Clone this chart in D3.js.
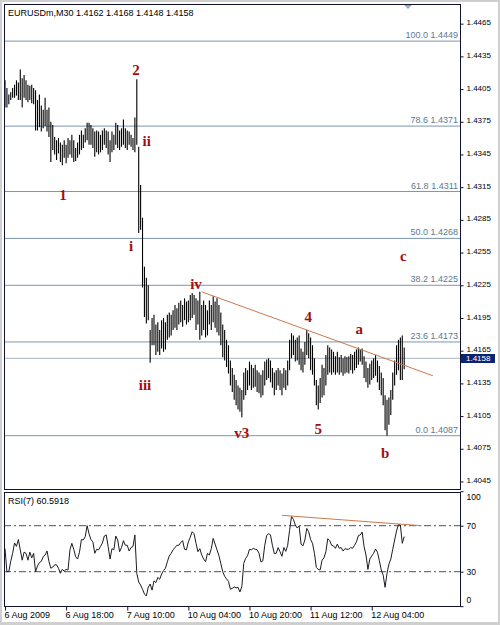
<!DOCTYPE html>
<html>
<head>
<meta charset="utf-8">
<script src="https://cdn.jsdelivr.net/npm/d3@7"></script>
<style>
  body { margin: 0; background: #fff; }
  svg { display: block; }
  text { font-family: Tahoma, "Liberation Sans", Arial, sans-serif; }
</style>
</head>
<body>
<svg id="chart" width="500" height="625"></svg>
<script>
// ---- data ----
const title = "EURUSDm,M30  1.4162 1.4168 1.4148 1.4158";

// M30 bars, high / low
const highs = [
  1.4413, 1.4406, 1.4400, 1.4402, 1.4406, 1.4409, 1.4413, 1.4411, 1.4423, 1.4415,
  1.4418, 1.4413, 1.4409, 1.4408, 1.4409, 1.4406, 1.4404, 1.4395, 1.4400, 1.4390,
  1.4386, 1.4397, 1.4386, 1.4388, 1.4375, 1.4372, 1.4361, 1.4358, 1.4360, 1.4356,
  1.4354, 1.4358, 1.4354, 1.4360, 1.4358, 1.4363, 1.4358, 1.4351, 1.4356, 1.4363,
  1.4367, 1.4363, 1.4369, 1.4374, 1.4374, 1.4372, 1.4369, 1.4366, 1.4367, 1.4366,
  1.4363, 1.4367, 1.4369, 1.4367, 1.4366, 1.4358, 1.4366, 1.4363, 1.4374, 1.4372,
  1.4367, 1.4369, 1.4377, 1.4369, 1.4367, 1.4366, 1.4363, 1.4360, 1.4379, 1.4414,
  1.4352, 1.4317, 1.4287, 1.4242, 1.4232, 1.4225, 1.4184, 1.4195, 1.4198, 1.4189,
  1.4191, 1.4184, 1.4193, 1.4195, 1.4191, 1.4198, 1.4200, 1.4198, 1.4202, 1.4207,
  1.4204, 1.4209, 1.4211, 1.4207, 1.4213, 1.4210, 1.4211, 1.4216, 1.4218, 1.4216,
  1.4213, 1.4211, 1.4219, 1.4207, 1.4211, 1.4207, 1.4202, 1.4211, 1.4207, 1.4215,
  1.4210, 1.4213, 1.4207, 1.4200, 1.4189, 1.4184, 1.4175, 1.4170, 1.4156, 1.4149,
  1.4143, 1.4138, 1.4133, 1.4131, 1.4129, 1.4145, 1.4149, 1.4147, 1.4155, 1.4152,
  1.4149, 1.4152, 1.4147, 1.4145, 1.4143, 1.4147, 1.4155, 1.4157, 1.4158, 1.4156,
  1.4149, 1.4145, 1.4147, 1.4149, 1.4147, 1.4144, 1.4149, 1.4147, 1.4156, 1.4175,
  1.4181, 1.4179, 1.4175, 1.4177, 1.4179, 1.4167, 1.4164, 1.4173, 1.4184, 1.4181,
  1.4177, 1.4170, 1.4158, 1.4138, 1.4133, 1.4140, 1.4152, 1.4149, 1.4161, 1.4170,
  1.4168, 1.4166, 1.4164, 1.4160, 1.4164, 1.4159, 1.4161, 1.4158, 1.4160, 1.4159,
  1.4160, 1.4162, 1.4161, 1.4164, 1.4166, 1.4168, 1.4166, 1.4167, 1.4160, 1.4155,
  1.4149, 1.4153, 1.4156, 1.4158, 1.4161, 1.4156, 1.4151, 1.4145, 1.4140, 1.4124,
  1.4120, 1.4122, 1.4129, 1.4145, 1.4156, 1.4170, 1.4175, 1.4177, 1.4179, 1.4168
];
const lows = [
  1.4388, 1.4388, 1.4391, 1.4395, 1.4397, 1.4397, 1.4399, 1.4395, 1.4395, 1.4388,
  1.4397, 1.4395, 1.4393, 1.4395, 1.4392, 1.4391, 1.4367, 1.4367, 1.4370, 1.4366,
  1.4369, 1.4371, 1.4366, 1.4361, 1.4338, 1.4349, 1.4345, 1.4340, 1.4346, 1.4338,
  1.4335, 1.4342, 1.4337, 1.4342, 1.4345, 1.4342, 1.4338, 1.4339, 1.4342, 1.4345,
  1.4349, 1.4351, 1.4356, 1.4358, 1.4354, 1.4354, 1.4351, 1.4343, 1.4347, 1.4345,
  1.4347, 1.4349, 1.4354, 1.4351, 1.4345, 1.4338, 1.4347, 1.4349, 1.4354, 1.4351,
  1.4349, 1.4352, 1.4354, 1.4351, 1.4349, 1.4354, 1.4352, 1.4349, 1.4347, 1.4354,
  1.4273, 1.4276, 1.4223, 1.4196, 1.4190, 1.4193, 1.4154, 1.4170, 1.4170, 1.4161,
  1.4164, 1.4161, 1.4167, 1.4164, 1.4166, 1.4175, 1.4177, 1.4179, 1.4184, 1.4186,
  1.4184, 1.4189, 1.4191, 1.4187, 1.4193, 1.4189, 1.4191, 1.4193, 1.4195, 1.4198,
  1.4184, 1.4189, 1.4175, 1.4179, 1.4184, 1.4177, 1.4179, 1.4189, 1.4184, 1.4191,
  1.4186, 1.4182, 1.4179, 1.4170, 1.4159, 1.4156, 1.4150, 1.4144, 1.4133, 1.4127,
  1.4120, 1.4115, 1.4111, 1.4109, 1.4104, 1.4120, 1.4124, 1.4129, 1.4133, 1.4129,
  1.4131, 1.4132, 1.4127, 1.4126, 1.4122, 1.4124, 1.4133, 1.4138, 1.4140, 1.4136,
  1.4131, 1.4124, 1.4129, 1.4133, 1.4129, 1.4124, 1.4131, 1.4129, 1.4133, 1.4147,
  1.4158, 1.4161, 1.4155, 1.4156, 1.4152, 1.4147, 1.4145, 1.4152, 1.4161, 1.4158,
  1.4147, 1.4143, 1.4133, 1.4115, 1.4111, 1.4117, 1.4122, 1.4124, 1.4133, 1.4143,
  1.4145, 1.4143, 1.4145, 1.4143, 1.4145, 1.4143, 1.4145, 1.4142, 1.4144, 1.4145,
  1.4144, 1.4147, 1.4144, 1.4147, 1.4149, 1.4152, 1.4155, 1.4152, 1.4140, 1.4136,
  1.4131, 1.4134, 1.4138, 1.4140, 1.4142, 1.4136, 1.4129, 1.4124, 1.4115, 1.4092,
  1.4087, 1.4097, 1.4106, 1.4120, 1.4133, 1.4143, 1.4147, 1.4138, 1.4138, 1.4148
];
// RSI(7), one value per bar
const rsi = [
  50, 30, 30, 39, 46, 55, 52, 58, 49, 40,
  47, 46, 40, 47, 42, 46, 30, 35, 38, 39,
  43, 44.5, 48, 39, 33, 34, 36, 36, 33, 28.6,
  32, 30.5, 32, 31.5, 49, 54.7, 49.5, 43, 41, 47,
  58, 57.6, 60.5, 70, 63, 58, 56, 46, 49.5, 49,
  52, 55, 61, 62, 52, 41, 50, 49, 61, 57.6,
  47.4, 51, 57, 53, 53, 48, 51, 52, 62, 28.6,
  21, 18.4, 14.7, 10.7, 8.9, 16.4, 19.3, 14, 22, 20.5,
  25, 23.4, 28, 31, 33, 38.7, 43.7, 46, 49, 51,
  53, 53, 55.3, 57, 49.5, 49, 56, 60, 64.8, 63,
  54.7, 47.4, 50, 44.5, 41, 38.7, 46, 44.5, 50, 59,
  54, 49, 44, 37, 30, 26, 23.7, 21.6, 14.7, 15.5,
  16.7, 16, 16.4, 12.4, 17, 37.3, 41.6, 44, 49.5, 49,
  50.3, 49.5, 49, 46, 38.4, 39.5, 53, 61.6, 63, 62,
  53, 45.7, 46, 51, 47.4, 43.4, 51, 47.7, 53, 66,
  78, 75.5, 70.6, 68, 69.7, 54, 52.5, 57.6, 67.6, 64.8,
  58, 54.7, 46, 33.7, 32, 31.5, 40, 42, 47.4, 58.7,
  57, 53, 52.4, 50.3, 54, 50.3, 51, 48, 50, 49.5,
  49.5, 51, 50.3, 53, 56, 61.3, 62, 64.5, 51.8, 44.5,
  32, 41, 43.7, 46, 49.7, 47, 39.5, 31.5, 27, 16.4,
  28.6, 36.6, 41, 49.5, 57.6, 65.4, 71, 70.6, 54.7, 60.5918
];

const priceTicks = [1.4045, 1.4075, 1.4105, 1.4135, 1.4165, 1.4195, 1.4225, 1.4255,
  1.4285, 1.4315, 1.4345, 1.4375, 1.4405, 1.4435, 1.4465];
const rsiTicks = [100, 70, 30, 0];
const rsiLevels = [70, 30];
const timeLabels = ["6 Aug 2009", "6 Aug 18:00", "7 Aug 10:00", "10 Aug 04:00",
  "10 Aug 20:00", "11 Aug 12:00", "12 Aug 04:00"];
const timeLabelBars = [0, 32, 64, 96, 128, 160, 192];

const fibPct = ["0.0", "23.6", "38.2", "50.0", "61.8", "78.6", "100.0"];
const fibPrice = [1.4087, 1.4173, 1.4225, 1.4268, 1.4311, 1.4371, 1.4449];
const lastPrice = 1.4158;

// Elliott wave marks: label, bar, price
const waveText = ["1", "2", "i", "ii", "iii", "iv", "v3", "4", "5", "a", "b", "c"];
const waveBar = [30.4, 68.6, 66, 74.2, 73.3, 100, 123.9, 158.8, 164, 185.5, 199, 208.5];
const wavePrice = [1.4303, 1.4418, 1.4256, 1.4353, 1.4129, 1.4222, 1.4085, 1.4191,
  1.4089, 1.4180, 1.4067, 1.4247];

// trend lines (bar, value)
const trendBars = [103, 224];
const trendPrices = [1.4219, 1.4142];
const rsiTrendBars = [145, 218];
const rsiTrendVals = [79, 70];

// ---- layout ----
const svg = d3.select("#chart");
const W = 500, H = 625;
const left = 4, right = 460;
const mainTop = 4, mainBottom = 489;
const rsiTop = 492, rsiBottom = 606;
const frameColor = "#10122e";
const fibColor = "#7c96b0";
const waveColor = "#a00e10";
const trendColor = "#c97a4c";

const x = d3.scaleLinear().domain([0, 239]).range([5, 5 + 1.91 * 239]);
const y = d3.scaleLinear().domain([1.4087, 1.4449]).range([435.7, 41.1]);
const yr = d3.scaleLinear().domain([0, 100]).range([606.2, 491.2]);

// window border
svg.append("rect").attr("width", W).attr("height", H).attr("fill", "#cfcfcf");
svg.append("rect").attr("x", 2).attr("y", 2).attr("width", W - 4).attr("height", H - 5)
  .attr("fill", "#fff");

const defs = svg.append("defs");
defs.append("clipPath").attr("id", "clip-main").append("rect")
  .attr("x", left).attr("y", mainTop).attr("width", right - left).attr("height", mainBottom - mainTop);
defs.append("clipPath").attr("id", "clip-rsi").append("rect")
  .attr("x", left).attr("y", rsiTop).attr("width", right - left).attr("height", rsiBottom - rsiTop);

const main = svg.append("g").attr("clip-path", "url(#clip-main)");

// fibonacci levels
main.selectAll("line.fib")
  .data(fibPrice)
  .enter().append("line")
  .attr("class", "fib")
  .attr("x1", left).attr("x2", right)
  .attr("y1", d => y(d)).attr("y2", d => y(d))
  .attr("stroke", fibColor).attr("stroke-width", 1);

main.selectAll("text.fib")
  .data(fibPrice)
  .enter().append("text")
  .attr("class", "fib")
  .attr("x", right - 2)
  .attr("y", d => y(d) - 3)
  .attr("text-anchor", "end")
  .attr("font-size", 9)
  .attr("fill", "#5d7892")
  .text((d, i) => `${fibPct[i]} ${d3.format(".4f")(d)}`);

// bid line
main.append("line")
  .attr("x1", left).attr("x2", right)
  .attr("y1", y(lastPrice)).attr("y2", y(lastPrice))
  .attr("stroke", "#aab6c2").attr("stroke-width", 1);

// bars
main.selectAll("line.bar")
  .data(highs)
  .enter().append("line")
  .attr("class", "bar")
  .attr("x1", (d, i) => x(i)).attr("x2", (d, i) => x(i))
  .attr("y1", d => y(d))
  .attr("y2", (d, i) => y(lows[i]))
  .attr("stroke", "#000").attr("stroke-width", 1.1);

// trend line
main.append("line")
  .attr("x1", x(trendBars[0])).attr("y1", y(trendPrices[0]))
  .attr("x2", x(trendBars[1])).attr("y2", y(trendPrices[1]))
  .attr("stroke", trendColor).attr("stroke-width", 1);

// wave labels
main.selectAll("text.wave")
  .data(waveText)
  .enter().append("text")
  .attr("class", "wave")
  .attr("x", (d, i) => x(waveBar[i]))
  .attr("y", (d, i) => y(wavePrice[i]))
  .attr("text-anchor", "middle")
  .style("font-family", "'Liberation Serif', 'Times New Roman', serif")
  .attr("font-size", 15)
  .attr("font-weight", "bold")
  .attr("fill", waveColor)
  .text(d => d);

// title
svg.append("text")
  .attr("x", 8).attr("y", 16)
  .attr("font-size", 9)
  .attr("fill", "#000")
  .text(title);

// chart shift marker
svg.append("path")
  .attr("d", "M404,5 L412,5 L408,9 Z")
  .attr("fill", "#9aaabb");

// ---- RSI panel ----
const sub = svg.append("g").attr("clip-path", "url(#clip-rsi)");

sub.selectAll("line.level")
  .data(rsiLevels)
  .enter().append("line")
  .attr("class", "level")
  .attr("x1", left).attr("x2", right)
  .attr("y1", d => yr(d)).attr("y2", d => yr(d))
  .attr("stroke", "#505050").attr("stroke-width", 1)
  .attr("stroke-dasharray", "7,3,2,3");

sub.append("path")
  .datum(rsi)
  .attr("d", d3.line().x((d, i) => x(i)).y(d => yr(d)))
  .attr("fill", "none")
  .attr("stroke", "#1c1c24").attr("stroke-width", 1);

sub.append("line")
  .attr("x1", x(rsiTrendBars[0])).attr("y1", yr(rsiTrendVals[0]))
  .attr("x2", x(rsiTrendBars[1])).attr("y2", yr(rsiTrendVals[1]))
  .attr("stroke", trendColor).attr("stroke-width", 1);

svg.append("text")
  .attr("x", 8).attr("y", 504)
  .attr("font-size", 9)
  .attr("fill", "#000")
  .text(`RSI(7) ${d3.format(".4f")(rsi[rsi.length - 1])}`);

// ---- frames ----
[[mainTop, mainBottom], [rsiTop, rsiBottom]].forEach(([t, b]) => {
  svg.append("rect")
    .attr("x", left + 0.5).attr("y", t + 0.5)
    .attr("width", right - left).attr("height", b - t)
    .attr("fill", "none")
    .attr("stroke", frameColor).attr("stroke-width", 1);
});

// ---- axes ----
const priceAxis = svg.append("g")
  .attr("transform", `translate(${right + 0.5},0)`)
  .call(d3.axisRight(y).tickValues(priceTicks).tickFormat(d3.format(".4f"))
    .tickSize(3).tickPadding(3));
priceAxis.select(".domain").remove();
priceAxis.selectAll("line").attr("stroke", frameColor);
priceAxis.selectAll("text").attr("font-size", 8).attr("fill", "#000")
  .attr("font-family", null)
  .attr("y", -1.5);

// current price box
svg.append("rect")
  .attr("x", right + 1).attr("y", y(lastPrice) - 4.3)
  .attr("width", 34).attr("height", 9)
  .attr("fill", "#0c2470");
svg.append("text")
  .attr("x", right + 6).attr("y", y(lastPrice))
  .attr("dy", "0.35em")
  .attr("font-size", 8)
  .attr("fill", "#fff")
  .text(d3.format(".4f")(lastPrice));

const rsiAxis = svg.append("g")
  .attr("transform", `translate(${right + 0.5},0)`)
  .call(d3.axisRight(yr).tickValues(rsiTicks).tickSize(3).tickPadding(3));
rsiAxis.select(".domain").remove();
rsiAxis.selectAll("line").attr("stroke", frameColor);
rsiAxis.selectAll("text").attr("font-size", 8.5).attr("fill", "#000")
  .attr("font-family", null)
  .attr("transform", d => d === 100 ? "translate(0,6)" : d === 0 ? "translate(0,-6)" : null);

const timeAxis = svg.append("g")
  .attr("transform", `translate(0,${rsiBottom + 0.5})`)
  .call(d3.axisBottom(x).tickValues(timeLabelBars).tickFormat((d, i) => timeLabels[i])
    .tickSize(4).tickPadding(1));
timeAxis.select(".domain").remove();
timeAxis.selectAll("line").attr("stroke", frameColor);
timeAxis.selectAll("text").attr("font-size", 9).attr("fill", "#000")
  .attr("font-family", null)
  .attr("text-anchor", "start").attr("x", -1);
</script>
</body>
</html>
